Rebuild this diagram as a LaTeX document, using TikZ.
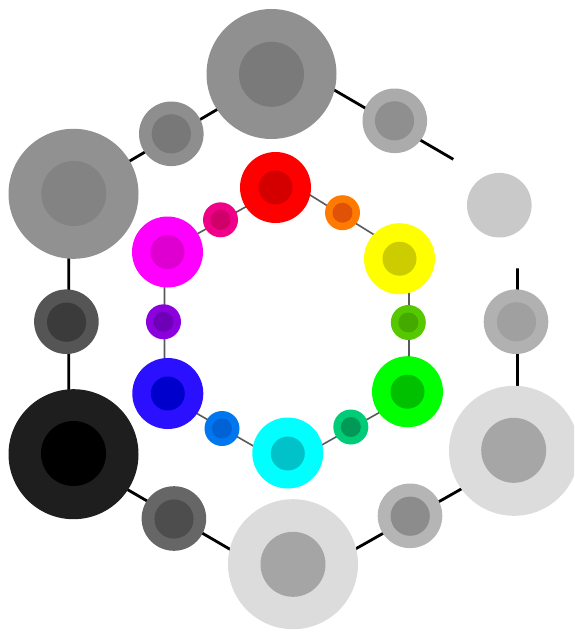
\documentclass[tikz,border=0pt]{standalone}
\begin{document}
\begin{tikzpicture}[x=1pt,y=-1pt,
  disc/.style={circle,inner sep=0pt,draw=none},
  obig/.style={disc,minimum size=130pt},
  obigin/.style={disc,minimum size=65pt},
  osmall/.style={disc,minimum size=64.6pt},
  osmallin/.style={disc,minimum size=39.2pt},
  ibig/.style={disc,minimum size=71pt},
  ibigin/.style={disc,minimum size=34pt},
  ismall/.style={disc,minimum size=35pt},
  ismallin/.style={disc,minimum size=20pt},
  outerline/.style={line width=2.8pt,black},
  innerline/.style={line width=1.6pt,black!65}]
\definecolor{gA}{HTML}{909090}\definecolor{gAi}{HTML}{7A7A7A}
\definecolor{gB}{HTML}{8E8E8E}\definecolor{gBi}{HTML}{787878}
\definecolor{gC}{HTML}{ABABAB}\definecolor{gCi}{HTML}{8F8F8F}
\definecolor{gD}{HTML}{919191}\definecolor{gDi}{HTML}{838383}
\definecolor{gE}{HTML}{C9C9C9}
\definecolor{gF}{HTML}{555555}\definecolor{gFi}{HTML}{3B3B3B}
\definecolor{gG}{HTML}{B1B1B1}\definecolor{gGi}{HTML}{A0A0A0}
\definecolor{gH}{HTML}{1E1E1E}\definecolor{gHi}{HTML}{000000}
\definecolor{gI}{HTML}{DCDCDC}\definecolor{gIi}{HTML}{A6A6A6}
\definecolor{gJ}{HTML}{666666}\definecolor{gJi}{HTML}{4D4D4D}
\definecolor{gK}{HTML}{DCDCDC}\definecolor{gKi}{HTML}{A5A5A5}
\definecolor{gL}{HTML}{B5B5B5}\definecolor{gLi}{HTML}{8C8C8C}
\definecolor{cR}{HTML}{FF0000}\definecolor{cRi}{HTML}{D40000}
\definecolor{cO}{HTML}{FF7A00}\definecolor{cOi}{HTML}{E05208}
\definecolor{cY}{HTML}{FFFF00}\definecolor{cYi}{HTML}{CCCC00}
\definecolor{cYG}{HTML}{55C800}\definecolor{cYGi}{HTML}{44AA00}
\definecolor{cG}{HTML}{00FF00}\definecolor{cGi}{HTML}{00C000}
\definecolor{cSG}{HTML}{00CC77}\definecolor{cSGi}{HTML}{009955}
\definecolor{cC}{HTML}{00FFFF}\definecolor{cCi}{HTML}{00C2C8}
\definecolor{cAz}{HTML}{0077EE}\definecolor{cAzi}{HTML}{0062D4}
\definecolor{cB}{HTML}{2A10FF}\definecolor{cBi}{HTML}{0000CC}
\definecolor{cV}{HTML}{8C00DD}\definecolor{cVi}{HTML}{6E00B8}
\definecolor{cM}{HTML}{FF00FF}\definecolor{cMi}{HTML}{DD00D0}
\definecolor{cRo}{HTML}{F00088}\definecolor{cRoi}{HTML}{D0006A}
\useasboundingbox (0,0) rectangle (574,634);
\clip (0,0) rectangle (574,634);
% outer hexagon vertices
\coordinate (Ot) at (291.9,65.4);
\coordinate (Otl) at (68.7,197);
\coordinate (Obl) at (68.7,455.3);
\coordinate (Ob) at (291.6,585.2);
\coordinate (Obr) at (517.5,457.1);
\coordinate (Ocut1) at (453.3,159.3);
\coordinate (Ocut2) at (517.5,268.3);
% inner hexagon vertices
\coordinate (It) at (289.7,182.4);
\coordinate (Itr) at (409,256.4);
\coordinate (Ibr) at (409,395.8);
\coordinate (Ib) at (286.3,465);
\coordinate (Ibl) at (164.5,394.8);
\coordinate (Itl) at (164.5,252.1);
% connectors
\draw[outerline] (Ocut1) -- (Ot) -- (Otl) -- (Obl) -- (Ob) -- (Obr) -- (Ocut2);
\draw[innerline] (It) -- (Itr) -- (Ibr) -- (Ib) -- (Ibl) -- (Itl) -- cycle;
% outer ring
\node[obig,fill=gA] (top) at (271.5,74) {};
\node[obigin,fill=gAi] (topI) at (271.5,74.3) {};
\node[osmall,fill=gB] (stl) at (171.3,133.8) {};
\node[osmallin,fill=gBi] (stlI) at (171.3,133.8) {};
\node[osmall,fill=gC] (str) at (394.8,120.8) {};
\node[osmallin,fill=gCi] (strI) at (394.5,120.8) {};
\node[obig,fill=gD] (ltop) at (73.5,193.8) {};
\node[obigin,fill=gDi] (ltopI) at (73.8,193.5) {};
\node[osmall,fill=gE] (lgray) at (499.3,205.2) {};
\node[osmall,fill=gF] (sl) at (66.4,321.7) {};
\node[osmallin,fill=gFi] (slI) at (66.6,322.2) {};
\node[osmall,fill=gG] (sr) at (516,321.7) {};
\node[osmallin,fill=gGi] (srI) at (516.5,321.8) {};
\node[obig,fill=gH] (blk) at (73.5,454.2) {};
\node[obigin,fill=gHi] (blkI) at (73.5,453.5) {};
\node[obig,fill=gI] (rbot) at (514,450.8) {};
\node[obigin,fill=gIi] (rbotI) at (513.7,450.3) {};
\node[osmall,fill=gJ] (sbl) at (173.9,518.5) {};
\node[osmallin,fill=gJi] (sblI) at (174,519) {};
\node[obig,fill=gK] (bot) at (293,564.2) {};
\node[obigin,fill=gKi] (botI) at (293,564.3) {};
\node[osmall,fill=gL] (sbr) at (410,515.8) {};
\node[osmallin,fill=gLi] (sbrI) at (410.2,516.2) {};
% inner ring
\node[ibig,fill=cR] (red) at (275.5,187.5) {};
\node[ibigin,fill=cRi] (redI) at (275.5,187.5) {};
\node[ismall,fill=cO] (ora) at (342.5,212.7) {};
\node[ismallin,fill=cOi] (oraI) at (342.5,212.7) {};
\node[ibig,fill=cY] (yel) at (399.5,258.7) {};
\node[ibigin,fill=cYi] (yelI) at (399.5,258.7) {};
\node[ismall,fill=cYG] (ygr) at (408.3,322.5) {};
\node[ismallin,fill=cYGi] (ygrI) at (408.3,322.5) {};
\node[ibig,fill=cG] (grn) at (407.5,391.7) {};
\node[ibigin,fill=cGi] (grnI) at (407.5,391.7) {};
\node[ismall,fill=cSG] (sgr) at (350.8,427) {};
\node[ismallin,fill=cSGi] (sgrI) at (350.8,427) {};
\node[ibig,fill=cC] (cya) at (287.8,453) {};
\node[ibigin,fill=cCi] (cyaI) at (287.8,453.5) {};
\node[ismall,fill=cAz] (azu) at (222,428.5) {};
\node[ismallin,fill=cAzi] (azuI) at (222,428.5) {};
\node[ibig,fill=cB] (blu) at (167.8,393.5) {};
\node[ibigin,fill=cBi] (bluI) at (167.8,393.5) {};
\node[ismall,fill=cV] (vio) at (163.5,321.8) {};
\node[ismallin,fill=cVi] (vioI) at (163.5,321.8) {};
\node[ibig,fill=cM] (mag) at (167.5,252) {};
\node[ibigin,fill=cMi] (magI) at (167.5,252) {};
\node[ismall,fill=cRo] (ros) at (220.5,219.8) {};
\node[ismallin,fill=cRoi] (rosI) at (220.5,219.8) {};
\end{tikzpicture}
\end{document}
